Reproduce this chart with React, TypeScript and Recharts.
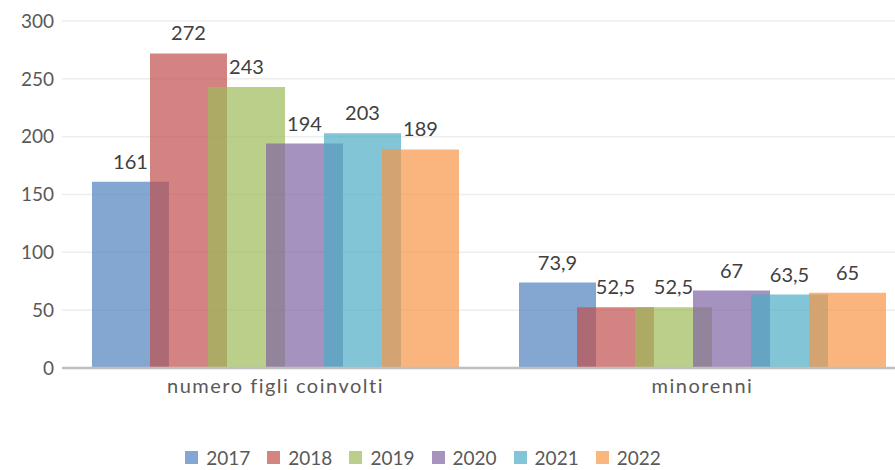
import { BarChart, Bar, XAxis, YAxis, CartesianGrid, Legend, LabelList } from "recharts"

const categories = ["numero figli coinvolti", "minorenni"]
const years = ["2017", "2018", "2019", "2020", "2021", "2022"]
const values2017 = [161, 73.9]
const values2018 = [272, 52.5]
const values2019 = [243, 52.5]
const values2020 = [194, 67]
const values2021 = [203, 63.5]
const values2022 = [189, 65]
const yTicks = [0, 50, 100, 150, 200, 250, 300]

const seriesValues = [values2017, values2018, values2019, values2020, values2021, values2022]
const colors = ["#4F81BD", "#C0504D", "#9BBB59", "#8064A2", "#4BACC6", "#F79646"]
const OPACITY = 0.7

// legend swatches are the bar colour as seen over white
const lighten = (hex: string) => {
  const n = parseInt(hex.slice(1), 16)
  const mix = (c: number) => Math.round(c * OPACITY + 255 * (1 - OPACITY))
  return `rgb(${mix((n >> 16) & 255)}, ${mix((n >> 8) & 255)}, ${mix(n & 255)})`
}

const data = categories.map((name, i) => {
  const row: Record<string, string | number> = { name }
  years.forEach((y, s) => {
    row[y] = seriesValues[s][i]
  })
  return row
})

const FONT = "Lato, 'Noto Sans', sans-serif"

const fmt = (v: any) => String(v).replace(".", ",")

function LegendBox() {
  return (
    <div style={{ display: "flex", justifyContent: "center", alignItems: "center", marginTop: 6, fontFamily: FONT, fontSize: 19, color: "#595959" }}>
      {years.map((y, i) => (
        <div key={y} style={{ display: "flex", alignItems: "center", marginRight: i < years.length - 1 ? 17 : 0 }}>
          <span style={{ display: "inline-block", width: 13, height: 13, background: lighten(colors[i]), marginRight: 8 }} />
          <span>{y}</span>
        </div>
      ))}
    </div>
  )
}

export default function App() {
  return (
    <div style={{ position: "fixed", left: 0, top: 0, width: 895, height: 470, overflow: "hidden", background: "#fff" }}>
      <BarChart
        width={916}
        height={470}
        data={data}
        margin={{ top: 21, right: 0, left: 0, bottom: 0 }}
        barGap={-19}
        barSize={77}
      >
        <CartesianGrid stroke="#EDEDED" strokeWidth={1.5} vertical={false} />
        <XAxis
          dataKey="name"
          height={72}
          tickLine={false}
          axisLine={{ stroke: "#BFBFBF", strokeWidth: 2.5 }}
          tick={{ fill: "#595959", fontSize: 20, fontFamily: FONT, letterSpacing: 1.5 }}
          dy={3}
        />
        <YAxis
          width={62}
          domain={[0, 300]}
          ticks={yTicks}
          tickLine={false}
          axisLine={false}
          tick={{ fill: "#595959", fontSize: 19, fontFamily: FONT }}
        />
        <Legend verticalAlign="bottom" height={30} wrapperStyle={{ left: 0, width: 846 }} content={() => <LegendBox />} />
        {years.map((y, i) => (
          <Bar key={y} dataKey={y} fill={colors[i]} fillOpacity={OPACITY} isAnimationActive={false}>
            <LabelList
              dataKey={y}
              position="top"
              offset={13}
              formatter={fmt}
              style={{ fill: "#404040", fontSize: 20, fontFamily: FONT }}
            />
          </Bar>
        ))}
      </BarChart>
    </div>
  )
}
